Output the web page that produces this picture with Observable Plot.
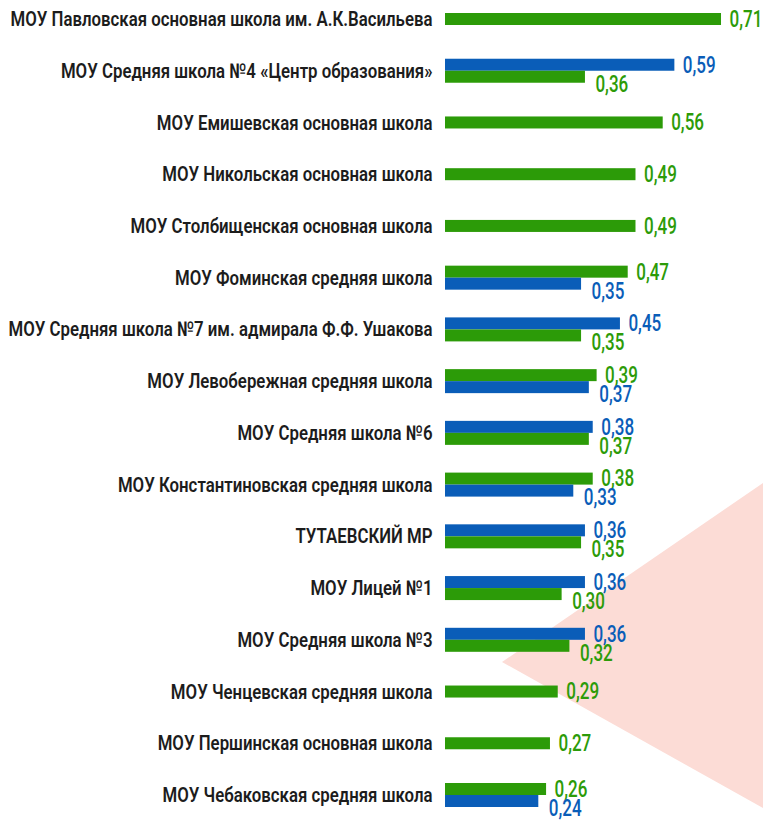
<!DOCTYPE html>
<html>
<head>
<meta charset="utf-8">
<script src="https://cdn.jsdelivr.net/npm/d3@7"></script>
<script src="https://cdn.jsdelivr.net/npm/@observablehq/plot@0.6"></script>
<style>
  html, body { margin: 0; padding: 0; background: #ffffff; }
  #wrap { position: relative; width: 763px; height: 820px; overflow: hidden; }
  #deco { position: absolute; left: 0; top: 0; width: 763px; height: 820px;
          background: #fcdcd6; clip-path: polygon(502px 662px, 763px 483px, 763px 808px); }
  #chart { position: absolute; left: 0; top: 0; }
</style>
</head>
<body>
<div id="wrap"><div id="deco"></div><div id="chart"></div></div>
<script>
const categories = [
  "МОУ Павловская основная школа им. А.К.Васильева",
  "МОУ Средняя школа №4 «Центр образования»",
  "МОУ Емишевская основная школа",
  "МОУ Никольская основная школа",
  "МОУ Столбищенская основная школа",
  "МОУ Фоминская средняя школа",
  "МОУ Средняя школа №7 им. адмирала Ф.Ф. Ушакова",
  "МОУ Левобережная средняя школа",
  "МОУ Средняя школа №6",
  "МОУ Константиновская средняя школа",
  "ТУТАЕВСКИЙ МР",
  "МОУ Лицей №1",
  "МОУ Средняя школа №3",
  "МОУ Ченцевская средняя школа",
  "МОУ Першинская основная школа",
  "МОУ Чебаковская средняя школа"
];
const blueValues  = [null, 0.59, null, null, null, 0.35, 0.45, 0.37, 0.38, 0.33, 0.36, 0.36, 0.36, null, null, 0.24];
const greenValues = [0.71, 0.36, 0.56, 0.49, 0.49, 0.47, 0.35, 0.39, 0.37, 0.38, 0.35, 0.30, 0.32, 0.29, 0.27, 0.26];
const seriesNames = ["Серия 1", "Серия 2"];

const BLUE = "#0a5db8", GREEN = "#2c9b08";

const singleRows = [], upperRows = [], lowerRows = [];
categories.forEach((cat, i) => {
  const b = blueValues[i], g = greenValues[i];
  if (b == null) { singleRows.push({cat, value: g, series: seriesNames[1]}); return; }
  if (g == null) { singleRows.push({cat, value: b, series: seriesNames[0]}); return; }
  const B = {cat, value: b, series: seriesNames[0]}, G = {cat, value: g, series: seriesNames[1]};
  if (b >= g) { upperRows.push(B); lowerRows.push(G); } else { upperRows.push(G); lowerRows.push(B); }
});

const fmt = v => d3.format(".2f")(v).replace(".", ",");
const valueFont = 23;

const plot = Plot.plot({
  width: 763,
  height: 820,
  marginLeft: 445,
  marginRight: 7,
  marginTop: 7,
  marginBottom: 13,
  style: {background: "transparent", fontFamily: "Roboto, 'DejaVu Sans Condensed', sans-serif", overflow: "visible"},
  x: {domain: [0, 0.8], axis: null},
  y: {domain: categories, paddingInner: 0.536, paddingOuter: 0, round: false, label: null},
  color: {domain: seriesNames, range: [BLUE, GREEN]},
  marks: [
    Plot.axisY({tickSize: 0, tickPadding: 13, fontSize: 20.5, fontWeight: 600, fill: "#1c1c1c", label: null}),
    Plot.barX(singleRows, {x: "value", y: "cat", fill: "series", insetTop: 6, insetBottom: 6}),
    Plot.barX(upperRows, {x: "value", y: "cat", fill: "series", insetBottom: 12}),
    Plot.barX(lowerRows, {x: "value", y: "cat", fill: "series", insetTop: 12}),
    Plot.text(singleRows, {x: "value", y: "cat", text: d => fmt(d.value), fill: "series", dx: 8, dy: 0, textAnchor: "start", fontSize: valueFont, fontWeight: 500}),
    Plot.text(upperRows, {x: "value", y: "cat", text: d => fmt(d.value), fill: "series", dx: 8, dy: -6, textAnchor: "start", fontSize: valueFont, fontWeight: 500}),
    Plot.text(lowerRows, {x: "value", y: "cat", text: d => fmt(d.value), fill: "series", dx: 10, dy: 13, textAnchor: "start", fontSize: valueFont, fontWeight: 500})
  ]
});

document.getElementById("chart").appendChild(plot);

// Emulate the condensed typeface of the original by narrowing glyphs
const texts = Array.from(plot.querySelectorAll("text"));
let longest = 0;
texts.forEach(t => { if (categories.includes(t.textContent)) longest = Math.max(longest, t.getComputedTextLength()); });
const kLabel = longest > 0 ? Math.min(1, 424 / longest) : 1;
const kValue = 0.74;
texts.forEach(t => {
  const w = t.getComputedTextLength();
  if (w <= 0) return;
  const isValue = !categories.includes(t.textContent);
  const k = isValue ? kValue : kLabel;
  t.setAttribute("textLength", (w * k).toFixed(2));
  t.setAttribute("lengthAdjust", "spacingAndGlyphs");
});
</script>
</body>
</html>
